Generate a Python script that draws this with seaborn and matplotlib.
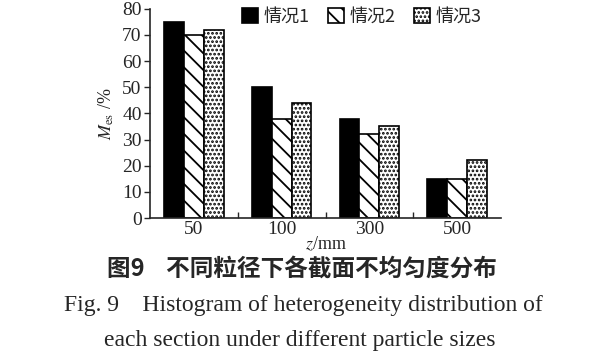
import pandas as pd
import numpy as np
import matplotlib.pyplot as plt
import seaborn as sns

sizes = ["50", "100", "300", "500"]
case_names = ["情况1", "情况2", "情况3"]
case1 = [75, 50, 38, 15]
case2 = [70, 38, 32, 15]
case3 = [72, 44, 35, 22]

df = pd.DataFrame({
    "z": sizes * 3,
    "case": [c for c in case_names for _ in sizes],
    "M": case1 + case2 + case3,
})

sns.set_style("ticks")
plt.rcParams['font.family'] = ['Liberation Serif', 'Noto Sans CJK SC', 'DejaVu Sans']
plt.rcParams['hatch.linewidth'] = 1.3
plt.rcParams['mathtext.fontset'] = 'stix'

fig = plt.figure(figsize=(6, 3.61), dpi=100)
ax = fig.add_axes([0.25, 0.396, 0.585, 0.58])

sns.barplot(data=df, x="z", y="M", hue="case", ax=ax, width=0.68,
            palette=["black", "white", "white"], edgecolor="black",
            linewidth=1.2, saturation=1)

hatches = [None, "\\\\", "...."]
for cont, h in zip(ax.containers, hatches):
    for p in cont:
        if h:
            p.set_hatch(h)

ax.set_ylim(0, 80)
ax.set_yticks(np.arange(0, 81, 10))
ax.set_xlim(-0.5, 3.5)
sns.despine(ax=ax)
ax.tick_params(axis="y", labelsize=14, length=4, width=1, pad=2)
ax.tick_params(axis="x", labelsize=14, length=0, pad=2)
ax.set_xticks([0.5, 1.5, 2.5], minor=True)
ax.tick_params(axis="x", which="minor", direction="in", length=4, width=1)
for s in ax.spines.values():
    s.set_linewidth(1.2)

ax.set_xlabel("$z$/mm", fontsize=13, labelpad=-2)
ax.set_ylabel("$M_{\\rm es}$ /%", fontsize=13, labelpad=4)

leg = ax.legend(loc="upper right", ncol=3, frameon=False,
                handlelength=0.9, handleheight=0.9, columnspacing=1.0,
                handletextpad=0.3, bbox_to_anchor=(0.99, 1.08),
                prop={'family': ['Noto Sans CJK SC'], 'size': 13})
for hp, h in zip(leg.legend_handles, hatches):
    if h:
        hp.set_hatch(h)

fig.text(0.503, 0.255, "图9    不同粒径下各截面不均匀度分布", ha="center", va="center",
         fontsize=17, fontweight="bold", family=['Noto Sans CJK SC'])
fig.text(0.505, 0.155, "Fig. 9    Histogram of heterogeneity distribution of",
         ha="center", va="center", fontsize=17, family=['Liberation Serif'])
fig.text(0.5, 0.058, "each section under different particle sizes",
         ha="center", va="center", fontsize=17, family=['Liberation Serif'])

fig.savefig("out.png", dpi=100)
